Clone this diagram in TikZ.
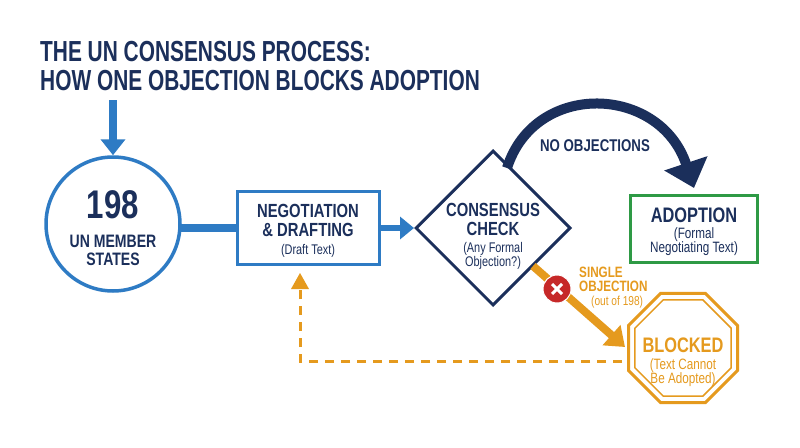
\documentclass[tikz,border=0pt]{standalone}
\usepackage{fontspec}
\setmainfont{Liberation Sans}
\usetikzlibrary{shapes.geometric,arrows.meta,calc}
\definecolor{navy}{HTML}{1B2F5B}
\definecolor{ublue}{HTML}{2E7BC4}
\definecolor{ugreen}{HTML}{2E9A45}
\definecolor{uorange}{HTML}{E59A1E}
\definecolor{ured}{HTML}{C62828}
\newcommand{\cond}[1]{\scalebox{0.78}[1]{#1}}
\begin{document}
\begin{tikzpicture}[x=1pt,y=-1pt,
  hd/.style={font=\bfseries\fontsize{19}{19}\selectfont,text=navy,align=center},
  sub/.style={font=\fontsize{14}{13}\selectfont,text=navy,align=center}]
\useasboundingbox (0,0) rectangle (800,447);
\fill[white] (0,0) rectangle (800,447);
\node[anchor=west,text=navy,font=\bfseries\fontsize{29}{30}\selectfont,align=left,inner sep=0] (title) at (40,66)
  {\scalebox{0.72}[1]{THE UN CONSENSUS PROCESS:}\\[-1pt]\scalebox{0.72}[1]{HOW ONE OBJECTION BLOCKS ADOPTION}};
\coordinate (ta) at (113,100);
\node[circle,draw=ublue,line width=3.5pt,minimum size=134pt,inner sep=0] (st) at (113,224) {};
\node[hd,font=\bfseries\fontsize{40}{40}\selectfont] at (113,205) {\cond{198}};
\node[hd,font=\bfseries\fontsize{18}{18}\selectfont] at (113,250) {\cond{UN MEMBER}\\\cond{STATES}};
\draw[ublue,line width=8pt,-{Triangle[length=16pt,width=24pt]}] (ta) -- (st.north);
\node[draw=ublue,line width=3pt,minimum width=142pt,minimum height=73pt] (neg) at (308,228) {};
\node[hd] at (308,220) {\cond{NEGOTIATION}\\\cond{\& DRAFTING}};
\node[sub] at (308,251) {\cond{(Draft Text)}};
\coordinate (se) at (180,228);
\draw[ublue,line width=8pt] (se) -- (neg.west);
\node[diamond,draw=navy,line width=3pt,minimum width=155pt,minimum height=155pt,inner sep=0] (cc) at (493,228) {};
\node[hd] at (493,219) {\cond{CONSENSUS}\\\cond{CHECK}};
\node[sub] at (493,256) {\cond{(Any Formal}\\\cond{Objection?)}};
\draw[ublue,line width=6pt,-{Triangle[length=14pt,width=22pt]}] (neg.east) -- (cc.west);
\node[draw=ugreen,line width=3pt,minimum width=127pt,minimum height=67pt] (ad) at (694,229) {};
\node[hd,font=\bfseries\fontsize{21}{21}\selectfont] at (694,215) {\cond{ADOPTION}};
\node[sub,font=\fontsize{15}{14}\selectfont] at (694,242) {\cond{(Formal}\\\cond{Negotiating Text)}};
\coordinate (a1) at (507,168);
\coordinate (a2) at (694,188);
\draw[navy,line width=10pt,-{Triangle[length=26pt,width=44pt]}] (a1) .. controls (535,80) and (660,85) .. (a2);
\node[hd,font=\bfseries\fontsize{17}{17}\selectfont] (no) at (595,146) {\cond{NO OBJECTIONS}};
\node[regular polygon,regular polygon sides=8,draw=uorange,line width=3pt,minimum size=118pt,inner sep=0] (bl) at (683,348) {};
\node[regular polygon,regular polygon sides=8,draw=uorange,line width=1.5pt,minimum size=104pt,inner sep=0] at (683,348) {};
\node[hd,text=uorange,font=\bfseries\fontsize{21}{21}\selectfont] at (683,345) {\cond{BLOCKED}};
\node[sub,text=uorange,font=\fontsize{15}{14}\selectfont] at (683,373) {\cond{(Text Cannot}\\\cond{Be Adopted)}};
\coordinate (o1) at (533,266);
\coordinate (o2) at (625,347);
\draw[uorange,line width=8pt,-{Triangle[length=18pt,width=26pt]}] (o1) -- (o2);
\node[circle,fill=ured,draw=white,line width=1pt,minimum size=28pt,inner sep=0] (x) at (557,289) {};
\draw[white,line width=3pt] ($(x)+(-5,-5)$) -- ($(x)+(5,5)$) ($(x)+(-5,5)$) -- ($(x)+(5,-5)$);
\node[anchor=north west,font=\bfseries\fontsize{15}{14}\selectfont,text=uorange,align=left,inner sep=0] (so) at (579,267) {\cond{SINGLE}\\\cond{OBJECTION}};
\node[anchor=north west,font=\fontsize{13}{13}\selectfont,text=uorange,inner sep=0] (oo) at (591,296) {\cond{(out of 198)}};
\coordinate (d1) at (622,361);
\coordinate (d2) at (300,361);
\coordinate (d3) at (300,273);
\draw[uorange,line width=3pt,dash pattern=on 9pt off 7pt] (d1) -- (d2) -- ($(d3)+(0,14)$);
\fill[uorange] (d3) -- ++(-9,16) -- ++(18,0) -- cycle;
\end{tikzpicture}
\end{document}
